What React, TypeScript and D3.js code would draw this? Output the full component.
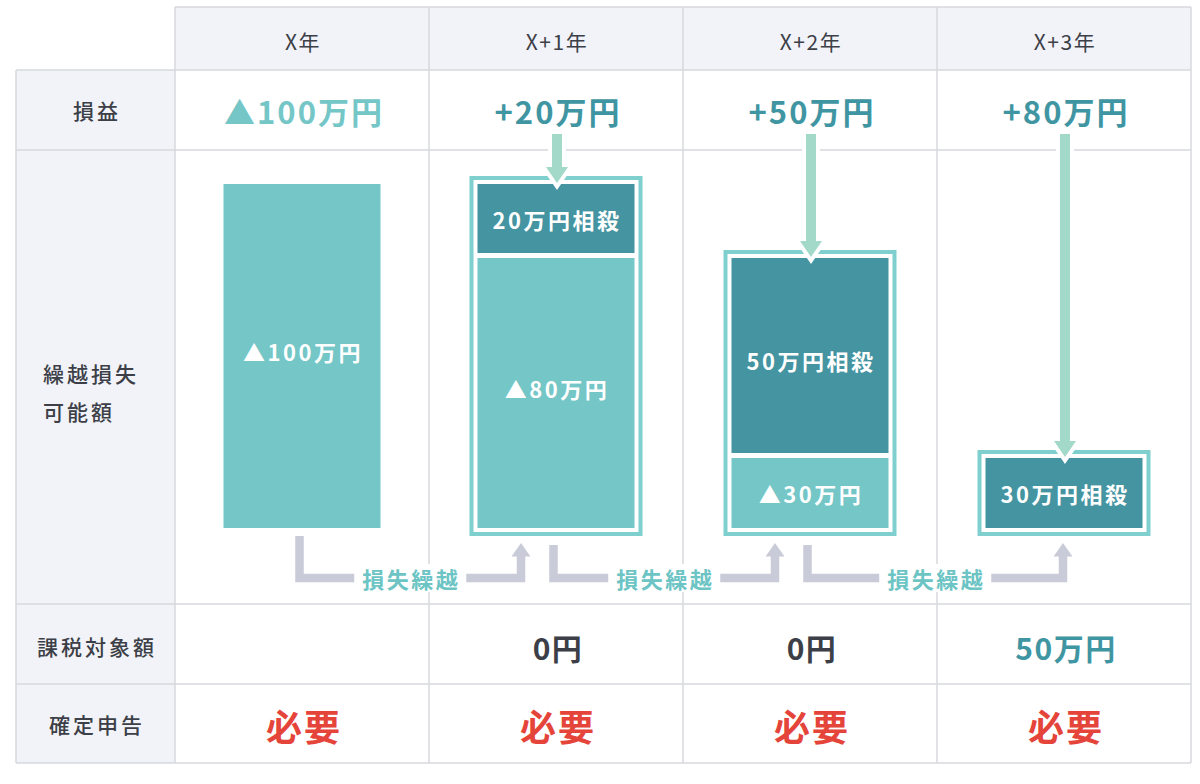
import React from "react";
import * as d3 from "d3";

// ---- data ----
const years = ["X年", "X+1年", "X+2年", "X+3年"];
const profitValues = [-100, 20, 50, 80];
const profitLabels = ["▲100万円", "+20万円", "+50万円", "+80万円"];
const availableLoss = [100, 100, 80, 30];
const offsetAmounts = [0, 20, 50, 30];
const remainingLoss = [100, 80, 30, 0];
const taxableLabels = ["", "0円", "0円", "50万円"];
const filingLabels = ["必要", "必要", "必要", "必要"];
const carryLabel = "損失繰越";
const rowLabels = ["損益", "繰越損失\n可能額", "課税対象額", "確定申告"];

const FONT = "'Noto Sans CJK JP', 'Noto Sans', sans-serif";
const C = {
  grid: "#d7d8dc",
  headBg: "#f2f3f8",
  light: "#74c6c7",
  dark: "#4494a1",
  frame: "#7fcfcf",
  mint: "#a2d9c8",
  gray: "#c9ccd8",
  text: "#3c3f47",
  teal: "#3f96a2",
  lightText: "#6cc4c4",
  red: "#e5443a",
};

export default function App() {
  const W = 1200, H = 784;
  const x = d3.scaleBand<string>().domain(years).range([175, 1191]).padding(0);
  const cx = (i: number) => (x(years[i]) as number) + x.bandwidth() / 2;
  const rows = [7, 70, 150, 604, 684, 763];
  const leftX = 16;
  const bottomY = 528;
  const barW = 157;
  const gap = 5;
  // schematic height scale (diagram is not strictly proportional)
  const h = d3.scaleLinear().domain([0, 30, 80, 100]).range([0, 70, 270, 344]);

  const els: React.ReactNode[] = [];

  // backgrounds
  els.push(<rect key="hb" x={175} y={rows[0]} width={1016} height={rows[1] - rows[0]} fill={C.headBg} />);
  els.push(<rect key="lb" x={leftX} y={rows[1]} width={175 - leftX} height={rows[5] - rows[1]} fill={C.headBg} />);

  // grid lines
  rows.forEach((y, k) => {
    els.push(<line key={"hl" + k} x1={k === 0 ? 175 : leftX} x2={1191} y1={y} y2={y} stroke={C.grid} strokeWidth={1.5} />);
  });
  els.push(<line key="vl0" x1={leftX} x2={leftX} y1={rows[1]} y2={rows[5]} stroke={C.grid} strokeWidth={1.5} />);
  [175, ...years.map((_, i) => (x(years[i]) as number) + x.bandwidth())].forEach((vx, k) => {
    els.push(<line key={"vl" + (k + 1)} x1={vx} x2={vx} y1={rows[0]} y2={rows[5]} stroke={C.grid} strokeWidth={1.5} />);
  });

  // header text
  years.forEach((yr, i) => {
    els.push(
      <text key={"yr" + i} x={cx(i) + 1} y={41} textAnchor="middle" dominantBaseline="central" fontSize={21} fill={C.text} fontFamily={FONT} letterSpacing={1.5}>
        {yr}
      </text>
    );
  });

  // row labels
  const labelCenters = [110, 0, 646, 724];
  rowLabels.forEach((lab, k) => {
    if (k === 1) {
      lab.split("\n").forEach((ln, j) => {
        els.push(
          <text key={"rl1" + j} x={43} y={373 + j * 38} dominantBaseline="central" fontSize={21} fontWeight={500} fill={C.text} fontFamily={FONT} letterSpacing={3}>
            {ln}
          </text>
        );
      });
    } else {
      els.push(
        <text key={"rl" + k} x={97} y={labelCenters[k]} textAnchor="middle" dominantBaseline="central" fontSize={21} fontWeight={500} fill={C.text} fontFamily={FONT} letterSpacing={3}>
          {lab}
        </text>
      );
    }
  });

  // profit row
  profitValues.forEach((v, i) => {
    els.push(
      <text key={"pv" + i} x={cx(i) + 2} y={110} textAnchor="middle" dominantBaseline="central" fontSize={31} fontWeight={700} fill={v < 0 ? C.light : C.teal} fontFamily={FONT} letterSpacing={2}>
        {profitLabels[i]}
      </text>
    );
  });

  // bars
  const boxInfo: { top: number; framed: boolean }[] = [];
  years.forEach((_, i) => {
    const c = cx(i);
    const bx = c - barW / 2;
    const total = availableLoss[i];
    const off = offsetAmounts[i];
    const rem = remainingLoss[i];
    const top = bottomY - h(total);
    const framed = off > 0;
    boxInfo.push({ top, framed });
    if (framed) {
      els.push(
        <rect key={"fr" + i} x={bx - 6} y={top - 6} width={barW + 12} height={h(total) + 12} fill="#fff" stroke={C.frame} strokeWidth={4} />
      );
    }
    const remH = rem > 0 ? h(rem) : 0;
    if (rem > 0) {
      els.push(<rect key={"rm" + i} x={bx} y={bottomY - remH} width={barW} height={remH} fill={C.light} />);
      els.push(
        <text key={"rmt" + i} x={c + 1} y={bottomY - remH / 2 - (remH > 100 ? 5 : 0)} textAnchor="middle" dominantBaseline="central" fontSize={22} fontWeight={700} fill="#fff" fontFamily={FONT} letterSpacing={2.5}>
          {"▲" + rem + "万円"}
        </text>
      );
    }
    if (off > 0) {
      const offH = rem > 0 ? h(total) - remH - gap : h(total);
      els.push(<rect key={"of" + i} x={bx} y={top} width={barW} height={offH} fill={C.dark} />);
      els.push(
        <text key={"oft" + i} x={c + 1} y={top + offH / 2 + (offH > 100 ? 4 : 0)} textAnchor="middle" dominantBaseline="central" fontSize={22} fontWeight={700} fill="#fff" fontFamily={FONT} letterSpacing={2.5}>
          {off + "万円相殺"}
        </text>
      );
    }
  });

  // down arrows (profit applied against carried loss)
  years.forEach((_, i) => {
    if (offsetAmounts[i] <= 0 || i === 0) return;
    const ax = cx(i) + 1;
    const tip = boxInfo[i].top - 1;
    const sw = 5, hw = 11, hh = 16, y0 = 134;
    const d = `M${ax - sw},${y0} H${ax + sw} V${tip - hh} H${ax + hw} L${ax},${tip} L${ax - hw},${tip - hh} H${ax - sw} Z`;
    els.push(<path key={"dao" + i} d={d} fill="#fff" stroke="#fff" strokeWidth={8} strokeLinejoin="miter" />);
    els.push(<path key={"da" + i} d={d} fill={C.mint} />);
  });

  // carry-forward arrows
  for (let i = 0; i < years.length - 1; i++) {
    const lx = cx(i) - 2.5;
    const rx = i + 1 < years.length - 1 ? cx(i + 1) - 35 : cx(i + 1) - 1;
    const startY = (boxInfo[i].framed ? bottomY + 9 : bottomY) + 8;
    const hy = 578;
    const tip = bottomY + 15;
    const headBase = tip + 13;
    els.push(
      <path key={"ca" + i} d={`M${lx},${startY} V${hy} H${rx} V${headBase}`} fill="none" stroke={C.gray} strokeWidth={8.5} strokeLinejoin="miter" />
    );
    els.push(
      <path key={"cah" + i} d={`M${rx - 9.5},${headBase + 0.5} L${rx},${tip} L${rx + 9.5},${headBase + 0.5} Z`} fill={C.gray} />
    );
    const tx = (lx + rx) / 2;
    els.push(<rect key={"cab" + i} x={tx - 56} y={hy - 14} width={112} height={28} fill="#fff" />);
    els.push(
      <text key={"cat" + i} x={tx + 1} y={hy} textAnchor="middle" dominantBaseline="central" fontSize={22} fontWeight={700} fill={C.lightText} fontFamily={FONT} letterSpacing={2.5}>
        {carryLabel}
      </text>
    );
  }

  // taxable row
  taxableLabels.forEach((t, i) => {
    if (!t) return;
    els.push(
      <text key={"tx" + i} x={cx(i) + 2} y={647} textAnchor="middle" dominantBaseline="central" fontSize={30} fontWeight={700} fill={t === "0円" ? C.text : C.teal} fontFamily={FONT} letterSpacing={1.5}>
        {t}
      </text>
    );
  });

  // filing row
  filingLabels.forEach((t, i) => {
    els.push(
      <text key={"fl" + i} x={cx(i) + 2} y={725} textAnchor="middle" dominantBaseline="central" fontSize={36} fontWeight={700} fill={C.red} fontFamily={FONT} letterSpacing={2}>
        {t}
      </text>
    );
  });

  return (
    <svg width={W} height={H} viewBox={`0 0 ${W} ${H}`} style={{ position: "absolute", left: 0, top: 0, background: "#fff" }}>
      {els}
    </svg>
  );
}
